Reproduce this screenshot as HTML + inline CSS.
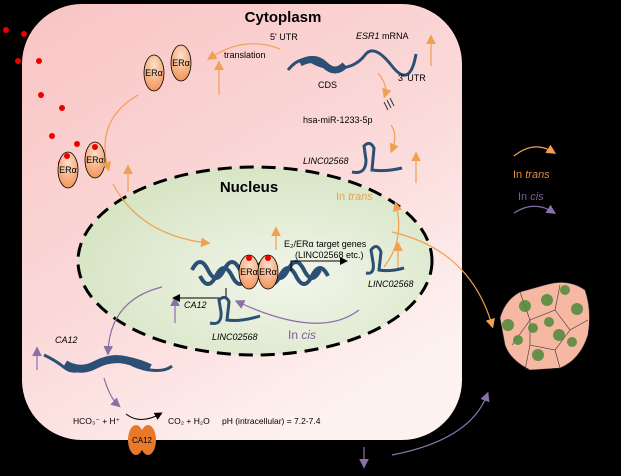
<!DOCTYPE html>
<html><head><meta charset="utf-8"><style>
html,body{margin:0;padding:0;background:#000;}
svg{display:block;font-family:"Liberation Sans",sans-serif;}
</style></head><body>
<svg width="621" height="476" viewBox="0 0 621 476" xmlns="http://www.w3.org/2000/svg">
<defs>
<linearGradient id="cell" x1="0" y1="0" x2="0.6" y2="1">
<stop offset="0" stop-color="#f9c4c4"/><stop offset="0.6" stop-color="#fbdada"/><stop offset="1" stop-color="#fdf2f0"/>
</linearGradient>
<radialGradient id="nuc" cx="0.6" cy="0.6" r="0.7">
<stop offset="0" stop-color="#f2f5ea"/><stop offset="1" stop-color="#d3e3c0"/>
</radialGradient>
<radialGradient id="er" cx="0.5" cy="0.3" r="0.7">
<stop offset="0" stop-color="#fde0cc"/><stop offset="1" stop-color="#f2955a"/>
</radialGradient>
<marker id="ao" markerWidth="8" markerHeight="8" refX="5" refY="4" orient="auto"><path d="M0,0 L8,4 L0,8 z" fill="#f0a050"/></marker>
<marker id="ap" markerWidth="8" markerHeight="8" refX="5" refY="4" orient="auto"><path d="M0,0 L8,4 L0,8 z" fill="#8a6fa8"/></marker>
<marker id="ab" markerWidth="8" markerHeight="8" refX="5" refY="4" orient="auto"><path d="M0,0 L8,4 L0,8 z" fill="#000"/></marker>
</defs>
<rect x="0" y="0" width="621" height="476" fill="#000"/>
<rect x="22" y="4" width="440" height="436" rx="60" fill="url(#cell)"/>
<ellipse cx="255" cy="261" rx="177" ry="94" fill="url(#nuc)" stroke="#000" stroke-width="3" stroke-dasharray="14,8"/>
<g fill="#e00">
<circle cx="6" cy="30" r="3"/><circle cx="24" cy="34" r="3"/><circle cx="18" cy="61" r="3"/><circle cx="39" cy="61" r="3"/><circle cx="41" cy="95" r="3"/><circle cx="62" cy="108" r="3"/><circle cx="52" cy="136" r="3"/><circle cx="77" cy="144" r="3"/><circle cx="61" cy="163" r="3"/>
</g>
<text x="283" y="22" font-size="15" font-weight="bold" text-anchor="middle">Cytoplasm</text>
<text x="249" y="192" font-size="15" font-weight="bold" text-anchor="middle">Nucleus</text>
<g font-size="9" text-anchor="middle">
<ellipse cx="154" cy="73" rx="10" ry="18" fill="url(#er)" stroke="#000" stroke-width="0.8"/><text x="154" y="76">ERα</text>
<ellipse cx="181" cy="63" rx="10" ry="18" fill="url(#er)" stroke="#000" stroke-width="0.8"/><text x="181" y="66">ERα</text>
<ellipse cx="68" cy="170" rx="10" ry="18" fill="url(#er)" stroke="#000" stroke-width="0.8"/><text x="68" y="173">ERα</text>
<ellipse cx="95" cy="160" rx="10" ry="18" fill="url(#er)" stroke="#000" stroke-width="0.8"/><text x="95" y="163">ERα</text>
</g>
<circle cx="67" cy="156" r="3" fill="#e00"/><circle cx="95" cy="147" r="3" fill="#e00"/>
<g fill="none" stroke="#f0a050" stroke-width="1.2">
<path d="M280,49 Q245,35 210,58" marker-end="url(#ao)"/>
<path d="M138,95 Q95,120 108,168" marker-end="url(#ao)"/>
<path d="M113,184 Q140,235 207,243" marker-end="url(#ao)"/>
<path d="M378,73 Q388,85 385,95" marker-end="url(#ao)"/>
<path d="M391,125 Q398,135 392,150" marker-end="url(#ao)"/>
<path d="M384,267 Q405,240 396,205" marker-end="url(#ao)"/>
<path d="M392,232 Q470,250 492,325" marker-end="url(#ao)"/>
<line x1="219" y1="95" x2="219" y2="64" marker-end="url(#ao)"/>
<line x1="128" y1="192" x2="128" y2="168" marker-end="url(#ao)"/>
<line x1="431" y1="66" x2="431" y2="38" marker-end="url(#ao)"/>
<line x1="416" y1="183" x2="416" y2="155" marker-end="url(#ao)"/>
<line x1="276" y1="250" x2="276" y2="230" marker-end="url(#ao)"/>
<line x1="398" y1="268" x2="398" y2="245" marker-end="url(#ao)"/>
<path d="M514,156 Q534,140 553,152" marker-end="url(#ao)"/>
</g>
<g fill="none" stroke="#8a6fa8" stroke-width="1.2">
<path d="M162,287 Q110,300 108,352" marker-end="url(#ap)"/>
<path d="M359,310 Q320,340 238,302" marker-end="url(#ap)"/>
<path d="M104,378 Q110,398 118,405" marker-end="url(#ap)"/>
<path d="M392,455 Q470,440 487,395" marker-end="url(#ap)"/>
<line x1="175" y1="323" x2="175" y2="300" marker-end="url(#ap)"/>
<line x1="37" y1="370" x2="37" y2="350" marker-end="url(#ap)"/>
<line x1="364" y1="447" x2="364" y2="465" marker-end="url(#ap)"/>
<path d="M514,213 Q534,200 553,212" marker-end="url(#ap)"/>
</g>
<path d="M288,70 Q300,55 312,62 T340,68 T365,55 T392,66 T416,54" fill="none" stroke="#2c4f75" stroke-width="3"/>
<path d="M300,63 Q315,55 325,65 T345,65" fill="none" stroke="#2c4f75" stroke-width="7"/>
<text x="270" y="40" font-size="9">5' UTR</text>
<text x="356" y="39" font-size="9"><tspan font-style="italic">ESR1</tspan> mRNA</text>
<text x="398" y="81" font-size="9">3' UTR</text>
<text x="318" y="88" font-size="9">CDS</text>
<text x="224" y="58" font-size="9">translation</text>
<text x="303" y="123" font-size="9">hsa-miR-1233-5p</text>
<path d="M384,102 l4,8 M387,100 l4,8 M390,98 l4,8" stroke="#333" stroke-width="1"/>
<path d="M352,172 Q366,175 366,160 L364,146 Q370,140 374,148 L372,170 Q385,172 402,168" fill="none" stroke="#2c4f75" stroke-width="3"/>
<text x="303" y="164" font-size="9" font-style="italic">LINC02568</text>
<text x="336" y="200" font-size="11" fill="#f0a050">In <tspan font-style="italic">trans</tspan></text>
<text x="513" y="178" font-size="11" fill="#e08a40">In <tspan font-style="italic">trans</tspan></text>
<text x="518" y="200" font-size="11" fill="#7a5f9a">In <tspan font-style="italic">cis</tspan></text>
<!-- DNA double helix -->
<path d="M192,268 q8,-16 16,0 t16,0 t16,0 t16,0 t16,0 t16,0 t16,0 t16,0" fill="none" stroke="#2c4f75" stroke-width="4" transform="translate(0,2)"/>
<path d="M192,276 q8,16 16,0 t16,0 t16,0 t16,0 t16,0 t16,0 t16,0 t16,0" fill="none" stroke="#2c4f75" stroke-width="4" transform="translate(8,0)"/>
<ellipse cx="249" cy="272" rx="10" ry="17" fill="url(#er)" stroke="#000" stroke-width="0.8"/>
<ellipse cx="268" cy="272" rx="10" ry="17" fill="url(#er)" stroke="#000" stroke-width="0.8"/>
<text x="249" y="275" font-size="9" text-anchor="middle">ERα</text><text x="268" y="275" font-size="9" text-anchor="middle">ERα</text>
<circle cx="249" cy="258" r="3" fill="#e00"/><circle cx="268" cy="258" r="3" fill="#e00"/>
<path d="M291,271 V261 H345" fill="none" stroke="#000" stroke-width="1" marker-end="url(#ab)"/>
<path d="M226,288 V298 H175" fill="none" stroke="#000" stroke-width="1" marker-end="url(#ab)"/>
<text x="284" y="247" font-size="9">E₂/ERα target genes</text>
<text x="295" y="258" font-size="9">(LINC02568 etc.)</text>
<path d="M366,273 Q375,275 373,262 L371,250 Q377,242 381,252 L379,270 Q390,272 404,268" fill="none" stroke="#2c4f75" stroke-width="3"/>
<text x="368" y="287" font-size="9" font-style="italic">LINC02568</text>
<text x="184" y="308" font-size="9" font-style="italic">CA12</text>
<path d="M210,323 Q222,326 221,312 L219,300 Q226,294 229,302 L227,320 Q240,322 260,316" fill="none" stroke="#2c4f75" stroke-width="3"/>
<text x="212" y="340" font-size="9" font-style="italic">LINC02568</text>
<text x="288" y="339" font-size="12" fill="#7a5f9a">In <tspan font-style="italic">cis</tspan></text>
<text x="55" y="343" font-size="9" font-style="italic">CA12</text>
<path d="M44,355 Q55,360 65,368 T95,364 T125,360 T150,370 T172,366" fill="none" stroke="#2c4f75" stroke-width="3"/>
<path d="M65,364 Q80,373 95,365 T125,360 T150,368" fill="none" stroke="#2c4f75" stroke-width="8"/>
<text x="73" y="424" font-size="8.5">HCO₃⁻ + H⁺</text>
<path d="M126,414 Q140,425 160,414" fill="none" stroke="#000" stroke-width="1" marker-end="url(#ab)"/>
<text x="168" y="424" font-size="8.5">CO₂ + H₂O</text>
<text x="222" y="424" font-size="8.5">pH (intracellular) = 7.2-7.4</text>
<ellipse cx="136" cy="440" rx="8" ry="15" fill="#e8782a"/><ellipse cx="148" cy="440" rx="8" ry="15" fill="#e8782a"/>
<text x="142" y="443" font-size="8" text-anchor="middle">CA12</text>
<g stroke="#333" stroke-width="0.6" fill="#f6b7a3">
<path d="M500,318 Q505,300 520,292 L545,285 Q568,278 585,290 Q592,310 588,335 Q580,360 560,368 L530,370 Q510,360 505,345 Z"/>
<path d="M520,292 L530,320 L512,345 M530,320 L555,310 L560,285 M555,310 L570,330 L588,320 M570,330 L555,350 L530,345 L530,320 M555,350 L560,368 M530,345 L525,370" fill="none"/>
</g>
<g fill="#4d8a3a" opacity="0.85">
<circle cx="508" cy="325" r="6"/><circle cx="525" cy="306" r="6"/><circle cx="547" cy="300" r="6"/><circle cx="565" cy="290" r="5"/><circle cx="577" cy="309" r="6"/><circle cx="549" cy="322" r="5"/><circle cx="533" cy="328" r="5"/><circle cx="559" cy="335" r="6"/><circle cx="518" cy="340" r="5"/><circle cx="538" cy="355" r="6"/><circle cx="572" cy="342" r="5"/>
</g>
</svg>
</body></html>
